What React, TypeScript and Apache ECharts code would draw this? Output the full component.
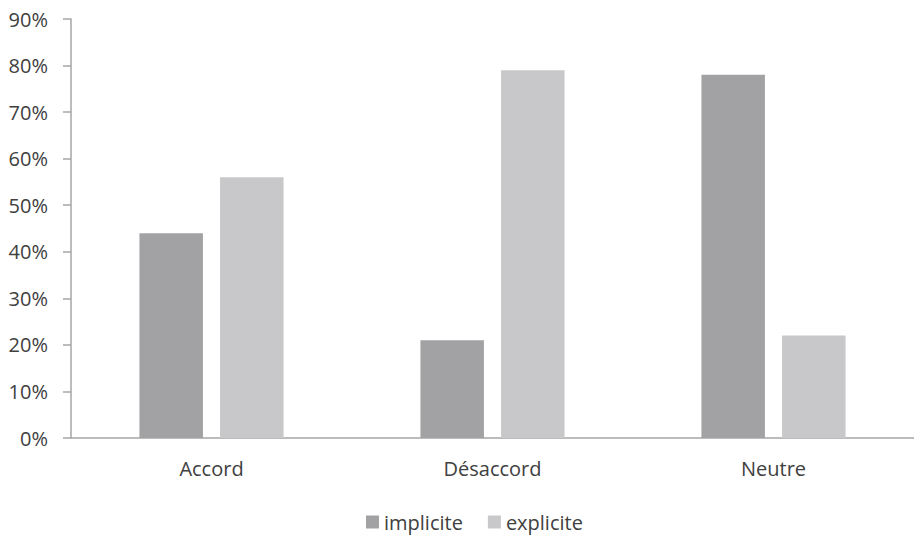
import React, { useEffect, useRef } from "react";
import * as echarts from "echarts";

const categories = ["Accord", "Désaccord", "Neutre"];
const implicite = [44, 21, 78];
const explicite = [56, 79, 22];
const yTicks = [0, 10, 20, 30, 40, 50, 60, 70, 80, 90];

export default function App() {
  const ref = useRef<HTMLDivElement>(null);
  useEffect(() => {
    document.body.style.margin = "0";
    const chart = echarts.init(ref.current!, undefined, { renderer: "svg" });
    const font = "Open Sans";
    chart.setOption({
      animation: false,
      textStyle: { fontFamily: font },
      grid: { left: 71, right: -8, top: 19, bottom: 98 },
      legend: {
        top: 507,
        left: 361,
        icon: "rect",
        itemWidth: 13,
        itemHeight: 13,
        itemGap: 25,
        itemTextGap: 5,
        textStyle: { color: "#404040", fontSize: 20, fontFamily: font },
        data: ["implicite", "explicite"],
      },
      xAxis: {
        type: "category",
        data: categories,
        axisLine: { lineStyle: { color: "#a6a6a6", width: 1.5 } },
        axisTick: { show: false },
        axisLabel: { color: "#404040", fontSize: 20, margin: 20 },
      },
      yAxis: {
        type: "value",
        min: yTicks[0],
        max: yTicks[yTicks.length - 1],
        interval: 10,
        axisLine: { show: true, lineStyle: { color: "#a6a6a6", width: 1.5 } },
        axisTick: { show: true, length: 8, lineStyle: { color: "#a6a6a6", width: 1.5 } },
        splitLine: { show: false },
        axisLabel: { color: "#404040", fontSize: 20, margin: 23, formatter: (v: number) => v + "%" },
      },
      series: [
        {
          name: "implicite",
          type: "bar",
          data: implicite,
          barWidth: 63.5,
          barGap: "27%",
          itemStyle: { color: "#a2a2a5" },
        },
        {
          name: "explicite",
          type: "bar",
          data: explicite,
          barWidth: 63.5,
          itemStyle: { color: "#c8c8ca" },
        },
      ],
    });
    return () => chart.dispose();
  }, []);
  return <div ref={ref} style={{ width: 914, height: 536 }} />;
}
